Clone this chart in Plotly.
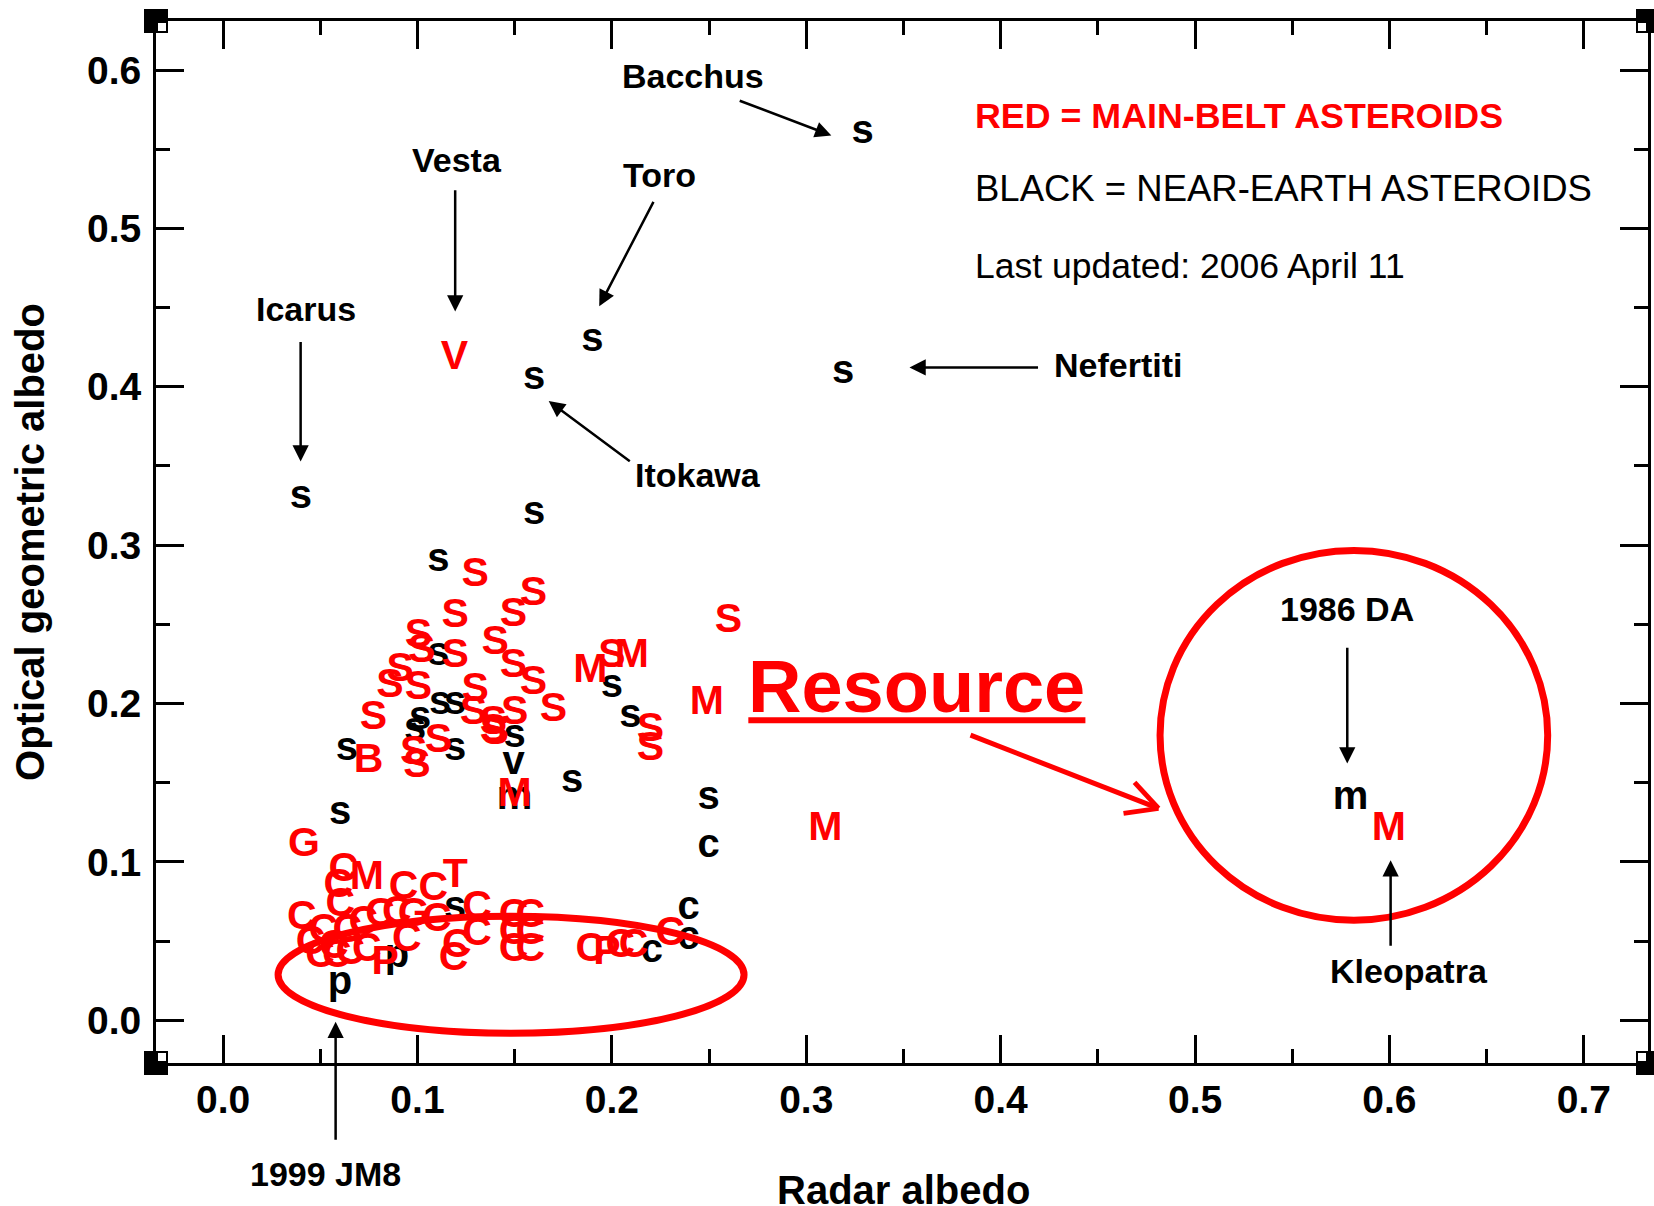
import plotly.graph_objects as go

# ---------------- data ----------------
# Red = main-belt asteroids (radar albedo, optical albedo, class letter)
red_x = [0.119, 0.1297, 0.1597, 0.1194, 0.1494, 0.260, 0.1005, 0.140, 0.1194, 0.1022,
         0.0911, 0.1494, 0.0859, 0.1005, 0.1597, 0.1297, 0.170, 0.0774, 0.1288, 0.1391,
         0.1391, 0.150, 0.140, 0.1108, 0.0980, 0.0997, 0.0748, 0.150, 0.1889, 0.200,
         0.2103, 0.2198, 0.2198, 0.2489, 0.3098, 0.5997,
         0.0416, 0.0619, 0.074, 0.0593, 0.0928, 0.1082, 0.1194, 0.0603, 0.1306, 0.0405,
         0.0516, 0.0639, 0.0722, 0.0808, 0.0894, 0.098, 0.110, 0.0945, 0.0499, 0.0585,
         0.0654, 0.074, 0.0834, 0.1185, 0.1202, 0.1306, 0.1494, 0.158, 0.1494, 0.158,
         0.1494, 0.158, 0.1889, 0.1975, 0.2044, 0.2112, 0.230, 0.0450, 0.0570]
red_y = [0.418, 0.281, 0.269, 0.2546, 0.2557, 0.2515, 0.2420, 0.2378, 0.2294, 0.2325,
         0.221, 0.223, 0.2104, 0.2094, 0.2125, 0.2083, 0.1957, 0.1904, 0.1936, 0.1873,
         0.182, 0.1936, 0.181, 0.1757, 0.168, 0.160, 0.163, 0.142, 0.220, 0.2294,
         0.2294, 0.183, 0.1705, 0.200, 0.120, 0.120,
         0.110, 0.0947, 0.0894, 0.0842, 0.0831, 0.0821, 0.0905, 0.0726, 0.0705, 0.0642,
         0.0557, 0.0558, 0.0610, 0.0663, 0.0673, 0.0663, 0.0631, 0.0505, 0.040, 0.040,
         0.042, 0.0442, 0.0358, 0.0379, 0.0463, 0.0537, 0.0652, 0.0652, 0.0547, 0.0547,
         0.0442, 0.0442, 0.0442, 0.0421, 0.0463, 0.0463, 0.0537, 0.048, 0.046]
red_lbl = ["V", "S", "S", "S", "S", "S", "S", "S", "S", "S",
           "S", "S", "S", "S", "S", "S", "S", "S", "S", "S",
           "S", "S", "S", "S", "S", "S", "B", "M", "M", "S",
           "M", "S", "S", "M", "M", "M",
           "G", "C", "M", "C", "C", "C", "T", "C", "C", "C",
           "C", "C", "C", "C", "C", "G", "C", "C", "C", "C",
           "C", "C", "P", "C", "C", "C", "C", "C", "C", "C",
           "C", "C", "C", "P", "C", "C", "C", "C", "C"]

# Black = near-earth asteroids
blk_x = [0.329, 0.319, 0.190, 0.160, 0.040, 0.160, 0.1108, 0.1108, 0.1117, 0.1194,
         0.1014, 0.0988, 0.150, 0.1194, 0.0637, 0.1494, 0.150, 0.1795, 0.200, 0.2095,
         0.2498, 0.2498, 0.0602, 0.1194, 0.0894, 0.0602, 0.2395, 0.2395, 0.2206, 0.580]
blk_y = [0.560, 0.409, 0.429, 0.405, 0.330, 0.320, 0.290, 0.2304, 0.200, 0.200,
         0.1904, 0.183, 0.179, 0.1705, 0.1705, 0.162, 0.140, 0.1504, 0.2104, 0.1915,
         0.140, 0.1094, 0.1305, 0.0705, 0.040, 0.0232, 0.0705, 0.0516, 0.0431, 0.140]
blk_lbl = ["s", "s", "s", "s", "s", "s", "s", "s", "s", "s",
           "s", "s", "s", "s", "s", "v", "m", "s", "s", "s",
           "s", "c", "s", "s", "p", "p", "c", "c", "c", "m"]

x_ticks = [0.0, 0.1, 0.2, 0.3, 0.4, 0.5, 0.6, 0.7]
y_ticks = [0.0, 0.1, 0.2, 0.3, 0.4, 0.5, 0.6]

FONT = "Liberation Sans, Arial, sans-serif"
RED = "#ff0000"

fig = go.Figure()
fig.add_trace(go.Scatter(x=blk_x, y=blk_y, text=blk_lbl, mode="text",
                         textposition="middle center",
                         textfont=dict(family=FONT, size=40, color="black", weight="bold"),
                         hoverinfo="skip", showlegend=False))
fig.add_trace(go.Scatter(x=red_x, y=red_y, text=red_lbl, mode="text",
                         textposition="middle center",
                         textfont=dict(family=FONT, size=41, color=RED, weight="bold"),
                         hoverinfo="skip", showlegend=False))

axis_common = dict(
    showgrid=False, zeroline=False, showline=True, linecolor="black", linewidth=3,
    mirror="ticks", ticks="inside", ticklen=28, tickwidth=3, tickcolor="black",
    tickformat=".1f", automargin=False,
    tickfont=dict(family=FONT, size=39, color="black", weight="bold"),
    minor=dict(ticks="inside", ticklen=14, tickwidth=3, tickcolor="black"),
)
fig.update_xaxes(range=[-0.0345, 0.733], tickvals=x_ticks, ticklabelstandoff=0,
                 minor_dtick=0.05, minor_tick0=0, **axis_common)
fig.update_yaxes(range=[-0.027, 0.631], tickvals=y_ticks, ticklabelstandoff=4,
                 minor_dtick=0.05, minor_tick0=0,
                 title=dict(text="Optical geometric albedo", standoff=30,
                            font=dict(family=FONT, size=40, color="black", weight="bold")),
                 **axis_common)

# ---------------- annotations ----------------
ann = []
lab = dict(family=FONT, size=34, color="black", weight="bold")

def label(text, x, y, ref="", **kw):
    ann.append(dict(text=text, x=x, y=y, xref=ref or "x", yref=ref or "y",
                    showarrow=False, font=kw.pop("font", lab), **kw))

def arrow(x0, y0, x1, y1, color="black", width=2.5, head=2, size=1.3):
    ann.append(dict(text="", x=x1, y=y1, ax=x0, ay=y0, xref="x", yref="y",
                    axref="x", ayref="y", showarrow=True, arrowhead=head,
                    arrowsize=size, arrowwidth=width, arrowcolor=color))

# x-axis title (placed as paper annotation so it can sit at the very bottom edge)
label("Radar albedo", 0.5013, -0.1219, ref="paper", xanchor="center", yanchor="middle",
      font=dict(family=FONT, size=40, color="black", weight="bold"))

label("Bacchus", 0.2419, 0.596)
arrow(0.265, 0.581, 0.3129, 0.5587)
label("Vesta", 0.1204, 0.543)
arrow(0.1194, 0.525, 0.1194, 0.4476)
label("Toro", 0.2244, 0.534)
arrow(0.2218, 0.5177, 0.1935, 0.4508)
label("Icarus", 0.0427, 0.4489)
arrow(0.0399, 0.4293, 0.0399, 0.3529)
label("Nefertiti", 0.4606, 0.4135)
arrow(0.42, 0.4122, 0.3531, 0.4122)
label("Itokawa", 0.2445, 0.344)
arrow(0.21, 0.3523, 0.1675, 0.391)
# below the axis: place in paper coordinates (data-ref labels outside range are hidden)
label("1999 JM8", 0.1133, -0.1065, ref="paper", xanchor="center", yanchor="middle")
arrow(0.0579, -0.0764, 0.0579, -0.001)
label("1986 DA", 0.5783, 0.2599)
arrow(0.5783, 0.2361, 0.5783, 0.1622)
label("Kleopatra", 0.6099, 0.0313)
arrow(0.6006, 0.0461, 0.6006, 0.101)

label("RED = MAIN-BELT ASTEROIDS", 0.386, 0.5707, xanchor="left",
      font=dict(family=FONT, size=35.8, color=RED, weight="bold"))
label("BLACK = NEAR-EARTH ASTEROIDS", 0.386, 0.5253, xanchor="left",
      font=dict(family=FONT, size=36.5, color="black"))
label("Last updated: 2006 April 11", 0.386, 0.4766, xanchor="left",
      font=dict(family=FONT, size=35.5, color="black"))

label("Resource", 0.3565, 0.2109,
      font=dict(family=FONT, size=74, color=RED, weight="bold"))

fig.update_layout(annotations=ann)

# ---------------- shapes ----------------
tip_x, tip_y = 0.4812, 0.1338
shapes = [
    # underline of "Resource"
    dict(type="line", xref="x", yref="y", x0=0.2702, x1=0.4436, y0=0.1894, y1=0.1894,
         line=dict(color=RED, width=6)),
    # red arrow shaft and open arrow head
    dict(type="line", xref="x", yref="y", x0=0.3845, y0=0.180, x1=tip_x, y1=tip_y,
         line=dict(color=RED, width=5)),
    dict(type="line", xref="x", yref="y", xsizemode="pixel", ysizemode="pixel",
         xanchor=tip_x, yanchor=tip_y, x0=0, y0=0, x1=-24, y1=26,
         line=dict(color=RED, width=5)),
    dict(type="line", xref="x", yref="y", xsizemode="pixel", ysizemode="pixel",
         xanchor=tip_x, yanchor=tip_y, x0=0, y0=0, x1=-35, y1=-5,
         line=dict(color=RED, width=5)),
    # ellipse round the dark low-albedo cluster
    dict(type="circle", xref="x", yref="y", x0=0.0283, x1=0.268, y0=-0.0082, y1=0.0657,
         line=dict(color=RED, width=7)),
    # circle round the metallic objects
    dict(type="circle", xref="x", yref="y", x0=0.482, x1=0.6814, y0=0.0631, y1=0.2967,
         line=dict(color=RED, width=7)),
]
# corner squares
for cx, cy, sx, sy in [(0, 1, 1, -1), (1, 1, -1, -1), (0, 0, 1, 1), (1, 0, -1, 1)]:
    shapes.append(dict(type="rect", xref="paper", yref="paper", xsizemode="pixel",
                       ysizemode="pixel", xanchor=cx, yanchor=cy, x0=-12, x1=12,
                       y0=-12, y1=12, fillcolor="black", line=dict(width=0)))
    shapes.append(dict(type="rect", xref="paper", yref="paper", xsizemode="pixel",
                       ysizemode="pixel", xanchor=cx, yanchor=cy,
                       x0=2 * sx, x1=10 * sx, y0=2 * sy, y1=10 * sy,
                       fillcolor="white", line=dict(width=0)))
fig.update_layout(shapes=shapes)

fig.update_layout(
    width=1654, height=1206,
    margin=dict(l=156, r=6, t=21, b=143, autoexpand=False),
    paper_bgcolor="white", plot_bgcolor="white",
    font=dict(family=FONT),
)

# remove the browser's default 8px body margin so the figure fills the window exactly
fig.write_html("out.html", config={"displayModeBar": False},
               post_script="document.body.style.margin='0';"
                           "document.body.style.padding='0';"
                           "document.body.style.overflow='hidden';")
